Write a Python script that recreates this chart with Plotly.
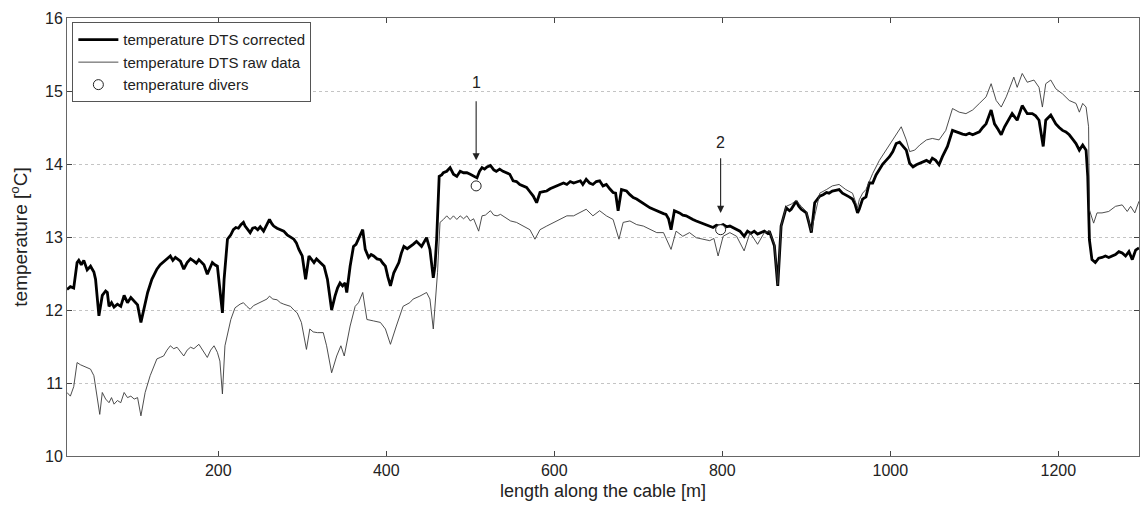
import plotly.graph_objects as go

# ---- data ----
dist_corrected = [20, 24, 28, 32, 34, 37, 40, 44, 48, 52, 54, 58, 62, 66, 68, 70, 73, 76, 80, 84, 88, 92, 96, 100,
                  104, 108, 112, 116, 121, 127, 131, 135, 139, 143, 146, 149, 155, 159, 163, 167, 171, 174, 177, 183,
                  187, 190, 193, 196, 199, 202, 205, 207, 211, 215, 218, 221, 224, 227, 230, 232, 235, 238, 241, 244,
                  247, 250, 254, 258, 261, 264, 266, 270, 274, 278, 282, 286, 290, 293, 296, 300, 304, 308, 311, 314,
                  317, 320, 323, 326, 330, 333, 335, 339, 342, 345, 348, 351, 353, 357, 361, 364, 367, 370, 372, 375,
                  379, 382, 385, 389, 393, 396, 399, 402, 405, 409, 412, 415, 418, 421, 425, 429, 432, 436, 439, 442,
                  445, 448, 452, 456, 458, 460, 463, 466, 468, 472, 476, 480, 484, 488, 492, 496, 500, 504, 508, 511,
                  514, 517, 520, 524, 528, 531, 535, 539, 543, 547, 551, 555, 559, 563, 567, 571, 575, 579, 583, 587,
                  591, 595, 599, 603, 607, 611, 615, 619, 623, 627, 631, 634, 638, 642, 646, 650, 654, 658, 662, 666,
                  670, 673, 676, 680, 686, 690, 694, 698, 702, 706, 710, 714, 718, 722, 726, 730, 733, 736, 739, 743,
                  749, 753, 757, 761, 765, 769, 773, 777, 781, 785, 789, 793, 797, 801, 805, 809, 813, 817, 821, 826,
                  830, 834, 838, 842, 846, 850, 854, 856, 862, 866, 870, 876, 880, 882, 888, 891, 894, 898, 900, 903,
                  906, 910, 916, 920, 924, 927, 931, 935, 939, 943, 947, 951, 955, 958, 961, 963, 967, 971, 975, 979,
                  983, 987, 991, 995, 999, 1003, 1007, 1011, 1015, 1019, 1023, 1027, 1031, 1035, 1039, 1043, 1047,
                  1050, 1054, 1058, 1062, 1068, 1074, 1078, 1082, 1086, 1090, 1094, 1098, 1102, 1106, 1110, 1114,
                  1120, 1124, 1128, 1132, 1136, 1140, 1145, 1151, 1157, 1163, 1169, 1173, 1177, 1182, 1185, 1191,
                  1197, 1201, 1205, 1209, 1213, 1217, 1221, 1225, 1229, 1233, 1235, 1237, 1240, 1244, 1248, 1252,
                  1256, 1260, 1264, 1268, 1272, 1276, 1280, 1284, 1288, 1292, 1296]
temp_corrected = [12.28, 12.32, 12.3, 12.65, 12.68, 12.62, 12.68, 12.55, 12.6, 12.52, 12.42, 11.92, 12.2, 12.26, 12.24,
                  12.05, 12.1, 12.04, 12.08, 12.05, 12.2, 12.1, 12.17, 12.12, 12.07, 11.83, 12.05, 12.24, 12.42, 12.56,
                  12.62, 12.66, 12.69, 12.74, 12.68, 12.72, 12.67, 12.56, 12.65, 12.7, 12.67, 12.64, 12.69, 12.62,
                  12.49, 12.58, 12.65, 12.62, 12.6, 12.28, 11.96, 12.42, 12.97, 13.03, 13.1, 13.13, 13.12, 13.17, 13.2,
                  13.15, 13.1, 13.06, 13.12, 13.13, 13.1, 13.14, 13.08, 13.16, 13.24, 13.18, 13.15, 13.12, 13.1, 13.08,
                  13.03, 13.0, 12.97, 12.92, 12.83, 12.74, 12.42, 12.74, 12.7, 12.65, 12.7, 12.67, 12.63, 12.6, 12.42,
                  12.2, 12.0, 12.19, 12.3, 12.37, 12.33, 12.37, 12.24, 12.6, 12.87, 12.9, 12.97, 13.05, 13.1, 12.83,
                  12.72, 12.76, 12.74, 12.7, 12.69, 12.64, 12.6, 12.45, 12.33, 12.51, 12.58, 12.65, 12.78, 12.87,
                  12.84, 12.87, 12.9, 12.94, 12.9, 12.87, 12.93, 12.99, 12.83, 12.44, 12.6, 12.97, 13.83, 13.85, 13.88,
                  13.9, 13.95, 13.86, 13.83, 13.9, 13.88, 13.88, 13.86, 13.84, 13.81, 13.9, 13.95, 13.93, 13.96, 13.98,
                  13.92, 13.9, 13.93, 13.9, 13.88, 13.86, 13.77, 13.76, 13.72, 13.7, 13.68, 13.62, 13.56, 13.47, 13.61,
                  13.62, 13.63, 13.66, 13.68, 13.7, 13.72, 13.74, 13.72, 13.76, 13.74, 13.75, 13.77, 13.72, 13.79,
                  13.74, 13.72, 13.76, 13.77, 13.7, 13.72, 13.66, 13.61, 13.6, 13.36, 13.65, 13.63, 13.58, 13.54,
                  13.52, 13.49, 13.46, 13.42, 13.4, 13.38, 13.36, 13.33, 13.32, 13.31, 13.25, 13.1, 13.36, 13.33,
                  13.3, 13.29, 13.26, 13.24, 13.22, 13.2, 13.18, 13.17, 13.15, 13.13, 13.16, 13.15, 13.17, 13.14,
                  13.15, 13.13, 13.1, 13.08, 13.01, 13.08, 13.05, 13.08, 13.04, 13.06, 13.08, 13.05, 13.08, 12.88,
                  12.33, 13.15, 13.4, 13.36, 13.38, 13.49, 13.42, 13.38, 13.34, 13.33, 13.2, 13.06, 13.47, 13.56,
                  13.58, 13.61, 13.6, 13.63, 13.64, 13.65, 13.6, 13.58, 13.55, 13.52, 13.45, 13.33, 13.38, 13.52,
                  13.55, 13.74, 13.74, 13.85, 13.92, 14.0, 14.05, 14.1, 14.17, 14.28, 14.3, 14.24, 14.19, 14.01,
                  13.96, 13.99, 14.01, 14.03, 14.05, 14.02, 14.08, 14.05, 13.99, 14.1, 14.24, 14.46, 14.44, 14.42,
                  14.41, 14.4, 14.42, 14.4, 14.42, 14.44, 14.5, 14.55, 14.74, 14.55, 14.48, 14.4, 14.51, 14.6, 14.69,
                  14.6, 14.8, 14.69, 14.69, 14.66, 14.6, 14.24, 14.6, 14.67, 14.55, 14.5, 14.46, 14.44, 14.4, 14.34,
                  14.28, 14.19, 14.26, 14.19, 13.83, 12.96, 12.69, 12.65, 12.71, 12.72, 12.74, 12.72, 12.74, 12.76,
                  12.8, 12.78, 12.74, 12.8, 12.69, 12.82, 12.85]

dist_raw = [20, 24, 28, 32, 36, 40, 44, 48, 52, 54, 59, 62, 66, 70, 73, 76, 80, 84, 88, 92, 96, 100, 104, 108, 113,
            119, 127, 131, 135, 139, 143, 147, 151, 159, 163, 167, 171, 177, 181, 187, 191, 195, 199, 202, 205, 208,
            215, 220, 226, 230, 234, 238, 242, 246, 250, 254, 258, 261, 265, 270, 274, 278, 286, 290, 294, 299, 305,
            309, 313, 318, 325, 329, 335, 341, 346, 350, 357, 363, 367, 372, 377, 385, 393, 399, 405, 412, 420, 428,
            432, 440, 448, 452, 456, 461, 464, 468, 472, 476, 480, 484, 488, 492, 496, 500, 504, 510, 514, 518, 524,
            528, 532, 536, 540, 544, 548, 555, 563, 571, 577, 583, 591, 599, 607, 615, 623, 630, 638, 646, 654, 662,
            670, 677, 682, 690, 698, 706, 714, 722, 730, 739, 745, 753, 761, 769, 777, 785, 790, 795, 801, 809, 817,
            826, 833, 842, 850, 856, 862, 866, 870, 876, 882, 888, 894, 900, 906, 916, 924, 931, 939, 947, 955, 961,
            963, 967, 971, 979, 987, 995, 1003, 1009, 1013, 1019, 1023, 1029, 1035, 1043, 1050, 1058, 1066, 1074,
            1082, 1090, 1098, 1106, 1114, 1120, 1126, 1132, 1138, 1147, 1151, 1157, 1163, 1171, 1177, 1181, 1185,
            1191, 1197, 1205, 1213, 1221, 1225, 1229, 1233, 1236, 1237, 1242, 1246, 1252, 1260, 1268, 1276, 1282,
            1286, 1291, 1296]
temp_raw = [10.87, 10.82, 10.95, 11.28, 11.25, 11.23, 11.2, 11.19, 11.1, 10.96, 10.57, 10.87, 10.78, 10.73, 10.8,
            10.71, 10.76, 10.73, 10.87, 10.8, 10.82, 10.78, 10.8, 10.55, 10.87, 11.1, 11.33, 11.35, 11.37, 11.45,
            11.51, 11.47, 11.49, 11.37, 11.45, 11.49, 11.47, 11.53, 11.45, 11.35, 11.45, 11.51, 11.42, 11.3, 10.85,
            11.51, 11.87, 12.03, 12.08, 12.1, 12.05, 12.01, 12.06, 12.08, 12.1, 12.12, 12.15, 12.19, 12.15, 12.14,
            12.1, 12.08, 12.05, 12.0, 11.96, 11.83, 11.46, 11.74, 11.7, 11.69, 11.69, 11.51, 11.14, 11.37, 11.51,
            11.37, 11.78, 12.05, 12.1, 12.24, 11.87, 11.85, 11.83, 11.74, 11.53, 11.78, 12.05, 12.1, 12.15, 12.19,
            12.24, 12.15, 11.74, 12.51, 13.2, 13.24, 13.29, 13.24, 13.29, 13.24, 13.29, 13.25, 13.29, 13.22, 13.25,
            13.08, 13.29, 13.3, 13.36, 13.3, 13.29, 13.31, 13.28, 13.24, 13.22, 13.2, 13.15, 13.1, 12.97, 13.1,
            13.15, 13.2, 13.24, 13.29, 13.29, 13.33, 13.38, 13.29, 13.36, 13.29, 13.24, 12.97, 13.2, 13.22, 13.17,
            13.15, 13.1, 13.06, 13.06, 12.83, 13.08, 13.01, 13.06, 12.99, 12.97, 12.95, 12.98, 12.74, 13.01, 13.06,
            13.01, 12.81, 13.06, 12.9, 13.06, 13.08, 12.9, 12.35, 13.15, 13.42, 13.45, 13.5, 13.42, 13.35, 13.08,
            13.6, 13.65, 13.7, 13.72, 13.65, 13.6, 13.4, 13.51, 13.6, 13.65, 13.87, 14.05, 14.19, 14.33, 14.44,
            14.51, 14.33, 14.17, 14.19, 14.26, 14.33, 14.35, 14.33, 14.46, 14.76, 14.71, 14.69, 14.74, 14.83, 14.92,
            15.1, 14.87, 14.78, 14.92, 15.19, 15.05, 15.24, 15.12, 15.15, 15.05, 14.78, 15.1, 15.15, 15.03, 14.96,
            14.87, 14.83, 14.71, 14.83, 14.78, 14.51, 13.37, 13.19, 13.33, 13.33, 13.35, 13.42, 13.44, 13.35, 13.42,
            13.33, 13.49]

diver_dist = [507, 798]
diver_temp = [13.70, 13.10]
diver_labels = ["1", "2"]
arrow_tail = [14.88, 14.10]
arrow_head = [14.05, 13.33]
label_y = [15.11, 14.29]

x_ticks = [200, 400, 600, 800, 1000, 1200]
y_ticks = [10, 11, 12, 13, 14, 15, 16]

FONT = "Liberation Sans, Arial, Helvetica, sans-serif"

fig = go.Figure()
fig.add_trace(go.Scatter(x=dist_corrected, y=temp_corrected, mode="lines",
                         line=dict(color="black", width=2.8),
                         name="temperature DTS corrected"))
fig.add_trace(go.Scatter(x=dist_raw, y=temp_raw, mode="lines",
                         line=dict(color="#3a3a3a", width=0.9),
                         name="temperature DTS raw data"))
fig.add_trace(go.Scatter(x=diver_dist, y=diver_temp, mode="markers",
                         marker=dict(symbol="circle", size=10, color="white",
                                     line=dict(color="#222", width=1)),
                         name="temperature divers"))

for xd, lab, yt, yh, yl in zip(diver_dist, diver_labels, arrow_tail, arrow_head, label_y):
    fig.add_annotation(x=xd, y=yh, ax=xd, ay=yt, xref="x", yref="y", axref="x", ayref="y",
                       text="", showarrow=True, arrowhead=2, arrowsize=1.3, arrowwidth=1.1,
                       arrowcolor="#222")
    fig.add_annotation(x=xd, y=yl, xref="x", yref="y", text=lab, showarrow=False,
                       font=dict(size=16, color="#222", family=FONT))

fig.update_layout(
    width=1144, height=507,
    margin=dict(l=67, r=5, t=18, b=51),
    paper_bgcolor="white", plot_bgcolor="white",
    font=dict(family=FONT, size=16, color="#222"),
    showlegend=True,
    legend=dict(x=0.005, y=0.99, xanchor="left", yanchor="top",
                bgcolor="white", bordercolor="#555", borderwidth=1,
                font=dict(size=15, family=FONT, color="#222"),
                tracegroupgap=0, itemwidth=40),
    xaxis=dict(range=[20, 1296], tickvals=x_ticks, ticks="inside", ticklen=5,
               showline=True, linecolor="#666", linewidth=1, mirror="ticks",
               showgrid=False, zeroline=False, tickfont=dict(size=16),
               title=dict(text="length along the cable [m]", font=dict(size=18), standoff=6)),
    yaxis=dict(range=[10, 16], tickvals=y_ticks, ticks="inside", ticklen=5,
               showline=True, linecolor="#666", linewidth=1, mirror="ticks",
               showgrid=True, gridcolor="#c4c4c4", griddash="dot", gridwidth=1,
               zeroline=False, tickfont=dict(size=16),
               title=dict(text="temperature [<sup>o</sup>C]", font=dict(size=19), standoff=12)),
)

fig.write_html("out.html")
